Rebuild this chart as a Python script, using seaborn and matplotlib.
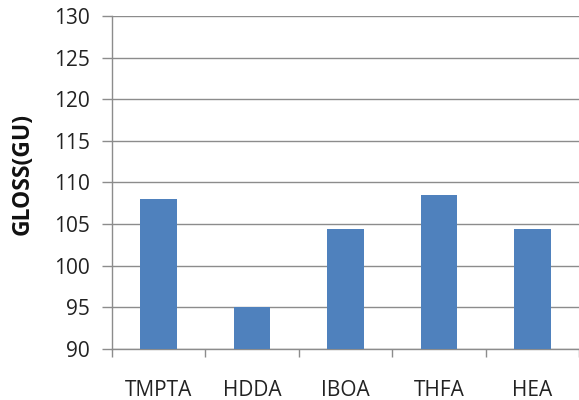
import matplotlib
matplotlib.use("Agg")
import matplotlib.pyplot as plt
import seaborn as sns
import pandas as pd
import numpy as np

# Gloss of cured films by reactive monomer
monomers = ["TMPTA", "HDDA", "IBOA", "THFA", "HEA"]
gloss = [108.0, 95.0, 104.4, 108.5, 104.4]
y_ticks = [90, 95, 100, 105, 110, 115, 120, 125, 130]

df = pd.DataFrame({"monomer": monomers, "gloss": gloss})

sns.set_theme(style="white")
plt.rcParams["font.family"] = ["Open Sans", "DejaVu Sans"]

grid_col = "#8c8c8c"
fig = plt.figure(figsize=(5.79, 4.0), dpi=100)
ax = fig.add_axes([0.1934, 0.1275, 0.8066, 0.8325])

sns.barplot(data=df, x="monomer", y="gloss", color="#4F81BD", width=0.39,
            saturation=1, ax=ax, zorder=3)
for p in ax.patches:
    p.set_edgecolor("none")
    # bars rise from the bottom of the value axis
    h = p.get_height()
    p.set_y(y_ticks[0])
    p.set_height(h - y_ticks[0])

ax.set_ylim(y_ticks[0], y_ticks[-1])
ax.set_xlim(-0.5, len(monomers) - 0.5)
ax.set_yticks(y_ticks)
ax.yaxis.grid(True, color=grid_col, linewidth=1.0, zorder=0)
ax.set_axisbelow(True)

for side in ["top", "right"]:
    ax.spines[side].set_visible(False)
for side in ["left", "bottom"]:
    ax.spines[side].set_color(grid_col)
    ax.spines[side].set_linewidth(1.0)

ax.tick_params(axis="y", which="major", length=7, width=1.0, color=grid_col,
               direction="out", left=True, labelsize=15, labelcolor="#222222", pad=9)
ax.tick_params(axis="x", which="major", length=0, labelsize=15,
               labelcolor="#222222", pad=22)
ax.set_xticks(np.arange(-0.5, len(monomers) + 0.5, 1.0), minor=True)
ax.tick_params(axis="x", which="minor", length=6, width=1.0, color=grid_col,
               direction="out", bottom=True)

ax.set_xlabel("")
ax.set_ylabel("GLOSS(GU)", fontsize=16.5, fontweight="bold", color="#111111")
ax.yaxis.set_label_coords(-0.165, 0.527)

fig.savefig("out.png", dpi=100)
